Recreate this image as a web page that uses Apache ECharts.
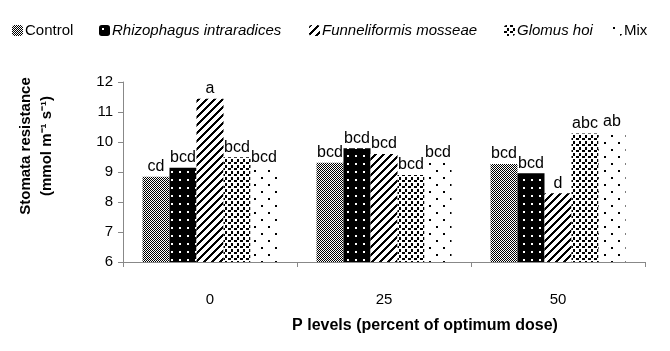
<!DOCTYPE html>
<html>
<head>
<meta charset="utf-8">
<script src="https://cdn.jsdelivr.net/npm/echarts@6/dist/echarts.min.js"></script>
<style>
    html, body { margin: 0; padding: 0; background: #fff; }
    #chart { width: 670px; height: 351px; }
</style>
</head>
<body>
<div id="chart"></div>
<script>
    // data
    var categories = ['0', '25', '50'];
    var seriesNames = ['Control', 'Rhizophagus intraradices', 'Funneliformis mosseae', 'Glomus hoi', 'Mix'];
    var control = [8.84, 9.31, 9.27];
    var rhizophagus = [9.14, 9.79, 8.96];
    var funneliformis = [11.44, 9.60, 8.29];
    var glomus = [9.49, 8.90, 10.28];
    var mix = [9.14, 9.30, 10.34];
    var controlLetters = ['cd', 'bcd', 'bcd'];
    var rhizophagusLetters = ['bcd', 'bcd', 'bcd'];
    var funneliformisLetters = ['a', 'bcd', 'd'];
    var glomusLetters = ['bcd', 'bcd', 'abc'];
    var mixLetters = ['bcd', 'bcd', 'ab'];
    var yTicks = [6, 7, 8, 9, 10, 11, 12];

    var allValues = [control, rhizophagus, funneliformis, glomus, mix];
    var allLetters = [controlLetters, rhizophagusLetters, funneliformisLetters, glomusLetters, mixLetters];

    var FONT = 'Liberation Sans, Arial, sans-serif';

    //pattern tiles drawn on small canvases
    function tile(w, h, draw) {
        var c = document.createElement('canvas');
        c.width = w;
        c.height = h;
        var ctx = c.getContext('2d');
        ctx.fillStyle = '#fff';
        ctx.fillRect(0, 0, w, h);
        ctx.fillStyle = '#000';
        draw(ctx);
        return { image: c, repeat: 'repeat' };
    }

    var patterns = [
        //fine grey checker
        tile(6, 6, function (ctx) {
            for (var y = 0; y < 6; y++) {
                for (var x = 0; x < 6; x++) {
                    if ((x + y) % 2 == 0) ctx.fillRect(x, y, 1, 1);
                }
            }
            ctx.fillStyle = '#fff';
            ctx.fillRect(2, 3, 1, 1);
        }),
        //black with white dots
        tile(8, 8, function (ctx) {
            ctx.fillRect(0, 0, 8, 8);
            ctx.fillStyle = '#fff';
            ctx.fillRect(3, 3, 2, 2);
        }),
        //thick "/" stripes
        tile(8, 8, function (ctx) {
            for (var y = 0; y < 8; y++) {
                for (var x = 0; x < 8; x++) {
                    if ((x + y) % 8 < 3) ctx.fillRect(x, y, 1, 1);
                }
            }
        }),
        //black confetti squares
        tile(6, 6, function (ctx) {
            ctx.fillRect(0, 0, 3, 2);
            ctx.fillRect(3, 3, 2, 3);
        }),
        //sparse dots
        tile(14, 14, function (ctx) {
            ctx.fillRect(2, 2, 2, 2);
            ctx.fillRect(9, 9, 2, 2);
        })
    ];

    var chart = echarts.init(document.getElementById('chart'), null, { renderer: 'canvas' });

    var legendLefts = [12, 99, 309, 504, 611];
    var legends = [];
    var series = [];
    for (var i = 0; i < seriesNames.length; i++) {
        legends.push({
            left: legendLefts[i],
            top: 23,
            itemWidth: 11,
            itemHeight: 11,
            itemGap: 0,
            padding: 0,
            selectedMode: false,
            data: [{
                name: seriesNames[i],
                textStyle: { fontStyle: (i > 0 && i < 4) ? 'italic' : 'normal' }
            }],
            textStyle: { fontFamily: FONT, fontSize: 15, color: '#000', padding: [0, 0, 0, -3] }
        });
        (function (letters) {
            series.push({
                name: seriesNames[i],
                type: 'bar',
                data: allValues[i],
                barWidth: 27,
                barGap: '0%',
                itemStyle: { color: patterns[i] },
                label: {
                    show: true,
                    position: 'top',
                    distance: 2,
                    fontFamily: FONT,
                    fontSize: 16,
                    color: '#000',
                    formatter: function (p) { return letters[p.dataIndex]; }
                }
            });
        })(allLetters[i]);
    }

    var option = {
        animation: false,
        backgroundColor: '#fff',
        title: {
            text: 'P levels (percent of optimum dose)',
            left: 420,
            top: 313,
            textAlign: 'center',
            textStyle: { fontFamily: FONT, fontSize: 16, fontWeight: 'bold', color: '#000' }
        },
        legend: legends,
        grid: { left: 123, right: 25, top: 82, bottom: 89 },
        xAxis: {
            type: 'category',
            data: categories,
            axisLine: { lineStyle: { color: '#888' } },
            axisTick: { show: true, length: 5, lineStyle: { color: '#888' } },
            axisLabel: { fontFamily: FONT, fontSize: 15, color: '#000', margin: 30 }
        },
        yAxis: {
            type: 'value',
            min: yTicks[0],
            max: yTicks[yTicks.length - 1],
            interval: 1,
            splitLine: { show: false },
            axisLine: { show: true, lineStyle: { color: '#888' } },
            axisTick: { show: true, length: 5, lineStyle: { color: '#888' } },
            axisLabel: { fontFamily: FONT, fontSize: 15, color: '#000', margin: 10 }
        },
        graphic: [{
            type: 'text',
            x: 36,
            y: 146,
            rotation: Math.PI / 2,
            style: {
                text: 'Stomata resistance\n(mmol m\u207B\u00B9 s\u207B\u00B9)',
                font: 'bold 15px ' + FONT,
                fill: '#000',
                align: 'center',
                verticalAlign: 'middle',
                lineHeight: 21
            }
        }],
        series: series
    };

    chart.setOption(option);
</script>
</body>
</html>
